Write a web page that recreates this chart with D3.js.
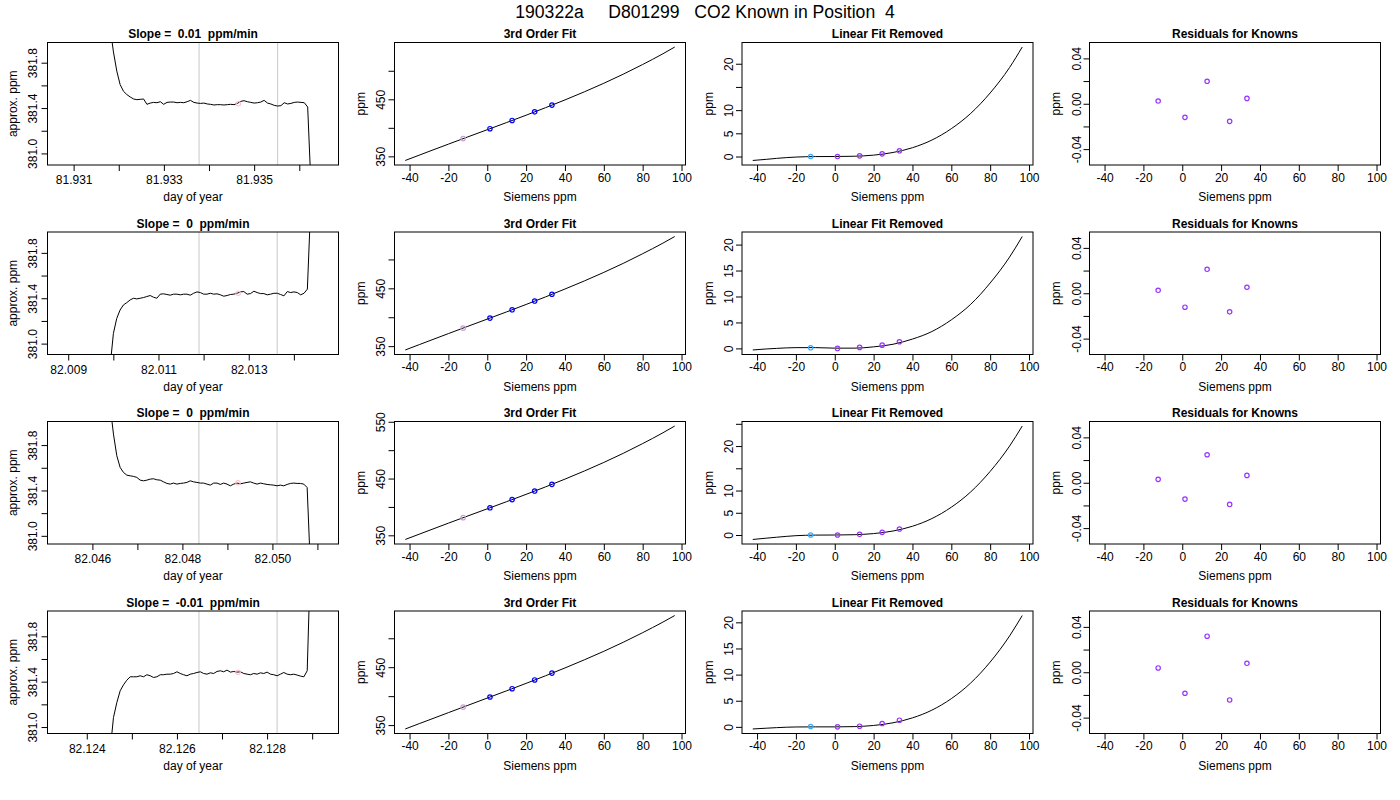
<!DOCTYPE html>
<html><head><meta charset="utf-8">
<script src="https://cdn.jsdelivr.net/npm/d3@7"></script>
<style>
body{margin:0;background:#fff}
svg{display:block}
text{font-family:"Liberation Sans",Arial,Helvetica,sans-serif;fill:#000}
</style>
</head><body>
<svg id="chart" width="1400" height="800"></svg>
<script>
// ---------------- DATA ----------------
const mainTitle = "190322a     D801299   CO2 Known in Position  4";
const slopeTitles = ["Slope =  0.01  ppm/min", "Slope =  0  ppm/min", "Slope =  0  ppm/min", "Slope =  -0.01  ppm/min"];
const fitTitle = "3rd Order Fit";
const linTitle = "Linear Fit Removed";
const resTitle = "Residuals for Knowns";

// trace sampling: first sample (day of year) and sample interval (days)
const traceStart = [81.931808, 82.009927, 82.046394, 82.124518];
const traceStep = [0.0000742, 0.0000741, 0.0000742, 0.0000741];

const traceRow1 = [382.111, 381.895, 381.726, 381.607, 381.548, 381.519, 381.498, 381.480, 381.474, 381.477,
  381.480, 381.433, 381.444, 381.450, 381.447, 381.456, 381.433, 381.450, 381.453, 381.453,
  381.447, 381.450, 381.447, 381.456, 381.468, 381.450, 381.444, 381.441, 381.444, 381.436,
  381.433, 381.427, 381.430, 381.430, 381.427, 381.430, 381.433, 381.430, 381.441, 381.459,
  381.465, 381.456, 381.450, 381.444, 381.447, 381.453, 381.468, 381.444, 381.436, 381.424,
  381.418, 381.421, 381.447, 381.436, 381.441, 381.450, 381.453, 381.450, 381.447, 381.409, 380.704];
const traceRow2 = [380.793, 381.089, 381.222, 381.296, 381.341, 381.361, 381.385, 381.400, 381.394, 381.400,
  381.406, 381.415, 381.424, 381.409, 381.400, 381.436, 381.439, 381.433, 381.427, 381.436,
  381.436, 381.430, 381.436, 381.436, 381.427, 381.444, 381.456, 381.450, 381.436, 381.436,
  381.444, 381.436, 381.439, 381.430, 381.418, 381.424, 381.433, 381.436, 381.444, 381.456,
  381.459, 381.436, 381.441, 381.462, 381.450, 381.441, 381.441, 381.430, 381.436, 381.444,
  381.444, 381.433, 381.421, 381.459, 381.450, 381.456, 381.450, 381.430, 381.444, 381.480, 382.215];
const traceRow3 = [382.147, 381.897, 381.706, 381.603, 381.559, 381.535, 381.529, 381.524, 381.515, 381.491,
  381.485, 381.491, 381.500, 381.503, 381.494, 381.491, 381.476, 381.462, 381.456, 381.465,
  381.456, 381.462, 381.465, 381.471, 381.485, 381.476, 381.471, 381.465, 381.465, 381.456,
  381.447, 381.465, 381.465, 381.453, 381.465, 381.456, 381.441, 381.456, 381.465, 381.459,
  381.465, 381.471, 381.476, 381.465, 381.456, 381.465, 381.459, 381.453, 381.450, 381.447,
  381.441, 381.447, 381.441, 381.453, 381.462, 381.465, 381.462, 381.462, 381.456, 381.426, 380.706];
const traceRow4 = [380.787, 381.083, 381.215, 381.319, 381.372, 381.413, 381.443, 381.443, 381.443, 381.452,
  381.443, 381.461, 381.452, 381.437, 381.443, 381.461, 381.461, 381.466, 381.466, 381.472,
  381.487, 381.472, 381.461, 381.452, 381.466, 381.472, 381.481, 381.487, 381.472, 381.466,
  381.478, 381.472, 381.490, 381.496, 381.487, 381.502, 381.484, 381.490, 381.484, 381.487,
  381.472, 381.466, 381.461, 381.472, 381.466, 381.478, 381.472, 381.484, 381.466, 381.461,
  381.452, 381.466, 381.481, 381.466, 381.461, 381.466, 381.458, 381.449, 381.443, 381.496, 382.500];
const traces = [traceRow1, traceRow2, traceRow3, traceRow4];

// x limits of each trace panel (day of year), averaging window and its mean
const dayLimits = [[81.93066, 81.93663], [82.00878, 82.01475], [82.045242, 82.051229], [82.123368, 82.129345]];
const windowDays = [[81.93378, 81.93552], [82.011898, 82.013631], [82.048367, 82.050102], [82.126489, 82.128222]];
const windowMean = [381.438, 381.444, 381.468, 381.483];
const dayTicks = [
  [81.931, 81.932, 81.933, 81.934, 81.935, 81.936],
  [82.009, 82.010, 82.011, 82.012, 82.013, 82.014],
  [82.046, 82.047, 82.048, 82.049, 82.050, 82.051],
  [82.124, 82.125, 82.126, 82.127, 82.128, 82.129]];
const ppmTicks = [381.0, 381.2, 381.4, 381.6, 381.8];

// calibration knowns
const knownSiemens = [-12.4, 1.4, 12.8, 24.4, 33.3];
const knownPpm = [381.1, 398.5, 412.9, 428.0, 439.8];
const fitSiemens = [-42.2, -35, -30, -20, -10, 0, 10, 20, 30, 40, 50, 60, 70, 80, 90, 96.5];
const fitRow1 = [342.8, 352.1, 358.6, 371.4, 384.1, 396.7, 409.3, 422.1, 435.3, 448.9, 463.1, 478.1, 494.0, 511.0, 529.0, 541.6];
const fitRow2 = [343.4, 352.6, 359.0, 371.7, 384.3, 396.8, 409.3, 422.1, 435.2, 448.8, 462.8, 477.6, 493.2, 509.9, 527.4, 539.6];
const fitRow3 = [342.7, 352.0, 358.5, 371.4, 384.1, 396.7, 409.3, 422.2, 435.3, 449.0, 463.3, 478.4, 494.4, 511.6, 529.8, 542.5];
const fitRow4 = [343.3, 352.5, 358.8, 371.5, 384.1, 396.7, 409.3, 422.1, 435.2, 448.7, 462.8, 477.5, 493.1, 509.7, 527.2, 539.3];
const fits = [fitRow1, fitRow2, fitRow3, fitRow4];

const nonlinRow1 = [-0.85, -0.6, -0.4, -0.12, -0.01, 0.0, 0.06, 0.3, 0.87, 1.9, 3.55, 6.0, 9.3, 13.7, 19.2, 23.6];
const nonlinRow2 = [-0.3, -0.1, 0.0, 0.15, 0.15, 0.05, 0.05, 0.3, 0.8, 1.8, 3.25, 5.5, 8.5, 12.6, 17.6, 21.55];
const nonlinRow3 = [-1.0, -0.7, -0.5, -0.15, -0.02, 0.0, 0.07, 0.32, 0.9, 1.97, 3.7, 6.25, 9.7, 14.3, 20.0, 24.5];
const nonlinRow4 = [-0.4, -0.25, -0.15, -0.02, 0.0, 0.0, 0.05, 0.27, 0.78, 1.72, 3.2, 5.4, 8.4, 12.4, 17.4, 21.3];
const nonlins = [nonlinRow1, nonlinRow2, nonlinRow3, nonlinRow4];
const knownNonlin = [[0.0, 0.0, 0.14, 0.58, 1.23], [0.12, 0.0, 0.19, 0.63, 1.28], [0.0, 0.0, 0.15, 0.6, 1.34], [0.07, 0.0, 0.13, 0.64, 1.28]];

const residuals = [
  [0.0024, -0.012, 0.0198, -0.0155, 0.0047],
  [0.0026, -0.0123, 0.0211, -0.0164, 0.0053],
  [0.0030, -0.0144, 0.0247, -0.0191, 0.0065],
  [0.0038, -0.0185, 0.0318, -0.0244, 0.0079]];
const residLimits = [-0.05, 0.05];

const siemensTicks = [-40, -20, 0, 20, 40, 60, 80, 100];
const fitTicks = [350, 400, 450, 500, 550];
const nonlinTicks = [0, 5, 10, 15, 20, 25];
const residTicks = [-0.04, -0.02, 0.0, 0.02, 0.04];

// ---------------- LAYOUT / STYLE ----------------
const FONT = '"Liberation Sans", Arial, Helvetica, sans-serif';
const colLeft = [47.5, 394.5, 742, 1089.5], PW = 291;
const rowTop = [42.5, 232, 421.5, 611], PH = 122.5;
const TICK = 6;
const xLabOff = [19, 16.7, 16.7, 16.7];
const yLabOff = [10.5, 10, 9, 9];
const yTitleOff = [31, 29.5, 29.5, 29.5];
const GAP = 11;
const PURPLE = "#9933ff";

const svg = d3.select("#chart");
svg.append("rect").attr("width", 1400).attr("height", 800).attr("fill", "#fff");
const measurer = svg.append("text").attr("font-size", 12).style("font-family", FONT).attr("visibility", "hidden");
function textW(s) { measurer.text(s); return measurer.node().getComputedTextLength(); }
function ext(a, b) { const d = (b - a) * 0.04; return [a - d, b + d]; }
function fmtFixed(n) { return v => v.toFixed(n); }

// R-like label thinning: skip a label if it would overlap the previous drawn one
function thin(sel, scale) {
  let lastPos = null, lastW = 0;
  sel.each(function (d) {
    const t = d3.select(this).select("text");
    const w = textW(t.text());
    const p = scale(d);
    if (lastPos === null || Math.abs(p - lastPos) >= (w + lastW) / 2 + GAP) {
      lastPos = p; lastW = w;
    } else {
      t.remove();
    }
  });
}

svg.append("text").attr("x", 705).attr("y", 18.3).attr("text-anchor", "middle")
  .attr("font-size", 17.6).style("white-space", "pre").attr("xml:space", "preserve").text(mainTitle);

function panel(r, c, xDom, yDom, xTicks, yTicks, xFmt, yFmt, title, xTitle, yTitle, draw) {
  const L = colLeft[c], T = rowTop[r], R = L + PW, B = T + PH;
  const xs = d3.scaleLinear().domain(xDom).range([L, R]);
  const ys = d3.scaleLinear().domain(yDom).range([B, T]);
  const g = svg.append("g");
  const cid = `clip${r}${c}`;
  svg.append("clipPath").attr("id", cid).append("rect").attr("x", L).attr("y", T).attr("width", PW).attr("height", PH);
  const plot = g.append("g").attr("clip-path", `url(#${cid})`);
  draw(plot, xs, ys, L, T, R, B);

  const eps = 1e-9;
  const xT = xTicks.filter(v => v >= xDom[0] - eps && v <= xDom[1] + eps);
  const yT = yTicks.filter(v => v >= yDom[0] - eps && v <= yDom[1] + eps);

  const xa = g.append("g").attr("transform", `translate(0,${B})`)
    .call(d3.axisBottom(xs).tickValues(xT).tickFormat(xFmt).tickSizeInner(TICK).tickSizeOuter(0));
  xa.select(".domain").remove();
  xa.selectAll("line").attr("stroke", "#000");
  xa.selectAll("text").attr("y", xLabOff[c]).attr("dy", 0).attr("font-size", 12).style("font-family", FONT).attr("fill", "#000");
  thin(xa.selectAll(".tick"), xs);

  const ya = g.append("g").attr("transform", `translate(${L},0)`)
    .call(d3.axisLeft(ys).tickValues(yT).tickFormat(yFmt).tickSizeInner(TICK).tickSizeOuter(0));
  ya.select(".domain").remove();
  ya.selectAll("line").attr("stroke", "#000");
  ya.selectAll("text").attr("transform", "rotate(-90)").attr("x", 0).attr("y", -yLabOff[c]).attr("dy", 0)
    .attr("text-anchor", "middle").attr("font-size", 12).style("font-family", FONT).attr("fill", "#000");
  thin(ya.selectAll(".tick"), ys);

  g.append("rect").attr("x", L).attr("y", T).attr("width", PW).attr("height", PH)
    .attr("fill", "none").attr("stroke", "#000").attr("stroke-width", 1);

  g.append("text").attr("x", (L + R) / 2).attr("y", T - 4.5).attr("text-anchor", "middle")
    .attr("font-size", 12).attr("font-weight", "bold").style("white-space", "pre").text(title);
  g.append("text").attr("x", (L + R) / 2).attr("y", B + 36).attr("text-anchor", "middle")
    .attr("font-size", 12).text(xTitle);
  g.append("text").attr("transform", `translate(${L - yTitleOff[c]},${(T + B) / 2}) rotate(-90)`)
    .attr("text-anchor", "middle").attr("font-size", 12).text(yTitle);
}

function circles(plot, xs, ys, xv, yv, colorFn) {
  plot.selectAll(null).data(xv.map((x, i) => [x, yv[i], i])).join("circle")
    .attr("cx", d => xs(d[0])).attr("cy", d => ys(d[1])).attr("r", 2.2)
    .attr("fill", "none").attr("stroke", d => colorFn(d[2])).attr("stroke-width", 1.2);
}

const siemensDom = ext(d3.min(fitSiemens), d3.max(fitSiemens));

for (let r = 0; r < 4; r++) {
  // column 1: trace
  const tr = traces[r].map((v, i) => [traceStart[r] + i * traceStep[r], v]);
  panel(r, 0, ext(dayLimits[r][0], dayLimits[r][1]), ext(windowMean[r] - 0.5, windowMean[r] + 0.5),
    dayTicks[r], ppmTicks, fmtFixed(3), fmtFixed(1), slopeTitles[r], "day of year", "approx. ppm",
    (plot, xs, ys, L, T, R, B) => {
      plot.selectAll(null).data(windowDays[r]).join("line")
        .attr("x1", d => xs(d)).attr("x2", d => xs(d)).attr("y1", T).attr("y2", B)
        .attr("stroke", "#c8c8c8").attr("stroke-width", 1);
      plot.append("path").datum(tr).attr("fill", "none").attr("stroke", "#000").attr("stroke-width", 1)
        .attr("d", d3.line().x(d => xs(d[0])).y(d => ys(d[1])));
      plot.append("circle").attr("cx", xs((windowDays[r][0] + windowDays[r][1]) / 2)).attr("cy", ys(windowMean[r]))
        .attr("r", 2.2).attr("fill", "none").attr("stroke", "#ffc0cb").attr("stroke-width", 1.1);
    });

  // column 2: 3rd order fit
  panel(r, 1, siemensDom, ext(d3.min(fits[r]), d3.max(fits[r])), siemensTicks, fitTicks,
    d => String(d), d => String(d), fitTitle, "Siemens ppm", "ppm",
    (plot, xs, ys) => {
      plot.append("path").datum(fitSiemens.map((x, i) => [x, fits[r][i]]))
        .attr("fill", "none").attr("stroke", "#000").attr("stroke-width", 1)
        .attr("d", d3.line().x(d => xs(d[0])).y(d => ys(d[1])).curve(d3.curveMonotoneX));
      circles(plot, xs, ys, knownSiemens, knownPpm, i => i === 0 ? "#c9a0dc" : "#0000ff");
    });

  // column 3: linear fit removed
  panel(r, 2, siemensDom, ext(d3.min(nonlins[r]), d3.max(nonlins[r])), siemensTicks, nonlinTicks,
    d => String(d), d => String(d), linTitle, "Siemens ppm", "ppm",
    (plot, xs, ys) => {
      plot.append("path").datum(fitSiemens.map((x, i) => [x, nonlins[r][i]]))
        .attr("fill", "none").attr("stroke", "#000").attr("stroke-width", 1)
        .attr("d", d3.line().x(d => xs(d[0])).y(d => ys(d[1])).curve(d3.curveMonotoneX));
      circles(plot, xs, ys, knownSiemens, knownNonlin[r], i => i === 0 ? "#3fa9f5" : PURPLE);
    });

  // column 4: residuals
  panel(r, 3, siemensDom, ext(residLimits[0], residLimits[1]), siemensTicks, residTicks,
    d => String(d), fmtFixed(2), resTitle, "Siemens ppm", "ppm",
    (plot, xs, ys) => {
      circles(plot, xs, ys, knownSiemens, residuals[r], () => PURPLE);
    });
}
measurer.remove();
</script>
</body></html>
